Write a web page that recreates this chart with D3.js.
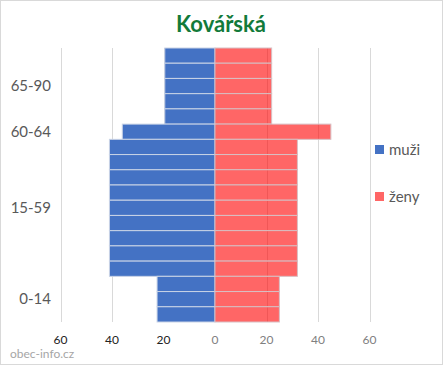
<!DOCTYPE html>
<html>
<head>
<meta charset="utf-8">
<script src="https://cdn.jsdelivr.net/npm/d3@7"></script>
<style>
  body { margin: 0; background: #fff; }
  text { font-family: Lato, "Open Sans", sans-serif; }
</style>
</head>
<body>
<div id="chart"></div>
<script>
// one entry per bar row, top to bottom
const rowGroup = ["65-90","65-90","65-90","65-90","65-90","60-64",
  "15-59","15-59","15-59","15-59","15-59","15-59","15-59","15-59","15-59",
  "0-14","0-14","0-14"];
const men = [19.5,19.5,19.5,19.5,19.5,36, 41,41,41,41,41,41,41,41,41, 22.5,22.5,22.5];
const women = [22,22,22,22,22,45, 32,32,32,32,32,32,32,32,32, 25,25,25];
const groups = ["65-90","60-64","15-59","0-14"];
const xTicks = [-60,-40,-20,0,20,40,60];
const keys = ["muži","ženy"];

const width = 443, height = 365;
const margin = { top: 48, right: 74, bottom: 43, left: 60.5 };

const svg = d3.select("#chart").append("svg")
  .attr("width", width)
  .attr("height", height);

svg.append("rect")
  .attr("x", 0.5).attr("y", 0.5)
  .attr("width", width - 1).attr("height", height - 1)
  .attr("fill", "#fff").attr("stroke", "#d9d9d9");

const x = d3.scaleLinear()
  .domain([-60, 60])
  .range([margin.left, 369.5]);

const rows = d3.range(rowGroup.length);
const y = d3.scaleBand()
  .domain(rows)
  .range([margin.top, height - margin.bottom]);

const color = d3.scaleOrdinal().domain(keys).range(["#4472c4", "#ff0000"]);

// gridlines
svg.append("g")
  .selectAll("line")
  .data(xTicks.filter(d => d !== 0))
  .enter().append("line")
    .attr("x1", d => Math.round(x(d)) + 0.5)
    .attr("x2", d => Math.round(x(d)) + 0.5)
    .attr("y1", margin.top)
    .attr("y2", height - margin.bottom)
    .attr("stroke", "#d9d9d9");

// men bars (left)
svg.append("g")
  .selectAll("rect")
  .data(rows)
  .enter().append("rect")
    .attr("x", i => x(-men[i]))
    .attr("y", i => y(i))
    .attr("width", i => x(0) - x(-men[i]))
    .attr("height", y.bandwidth())
    .attr("fill", color("muži"))
    .attr("stroke", "#c9d3e6")
    .attr("stroke-width", 1);

// women bars (right), see-through like the original
svg.append("g")
  .selectAll("rect")
  .data(rows)
  .enter().append("rect")
    .attr("x", x(0))
    .attr("y", i => y(i))
    .attr("width", i => x(women[i]) - x(0))
    .attr("height", y.bandwidth())
    .attr("fill", "rgba(255,0,0,0.6)")
    .attr("stroke", "#d8c0c4")
    .attr("stroke-width", 1);

// age group labels
svg.append("g")
  .selectAll("text")
  .data(groups)
  .enter().append("text")
    .attr("x", 51)
    .attr("y", g => {
      const idx = rows.filter(i => rowGroup[i] === g);
      return (y(idx[0]) + y(idx[idx.length - 1]) + y.bandwidth()) / 2 + 5;
    })
    .attr("text-anchor", "end")
    .attr("font-size", 15)
    .attr("fill", "#595959")
    .text(g => g);

// x tick labels
svg.append("g")
  .selectAll("text")
  .data(xTicks)
  .enter().append("text")
    .attr("x", d => x(d))
    .attr("y", 344)
    .attr("text-anchor", "middle")
    .attr("font-size", 12)
    .attr("fill", d => d < 0 ? "#222" : "#808080")
    .text(d => Math.abs(d));

// title
svg.append("text")
  .attr("x", 221)
  .attr("y", 32)
  .attr("text-anchor", "middle")
  .attr("font-size", 22)
  .attr("font-weight", "bold")
  .attr("fill", "#127a3a")
  .text("Kovářská");

// legend
const legend = svg.append("g")
  .selectAll("g")
  .data(keys)
  .enter().append("g")
    .attr("transform", (d, i) => `translate(375,${145 + i * 47})`);

legend.append("rect")
  .attr("width", 9).attr("height", 9)
  .attr("fill", d => d === "ženy" ? "#ff6666" : color(d));

legend.append("text")
  .attr("x", 14)
  .attr("y", 10)
  .attr("font-size", 15)
  .attr("fill", "#595959")
  .text(d => d);

// source
svg.append("text")
  .attr("x", 10)
  .attr("y", 358)
  .attr("font-size", 12)
  .attr("fill", "#a6a6a6")
  .text("obec-info.cz");
</script>
</body>
</html>
